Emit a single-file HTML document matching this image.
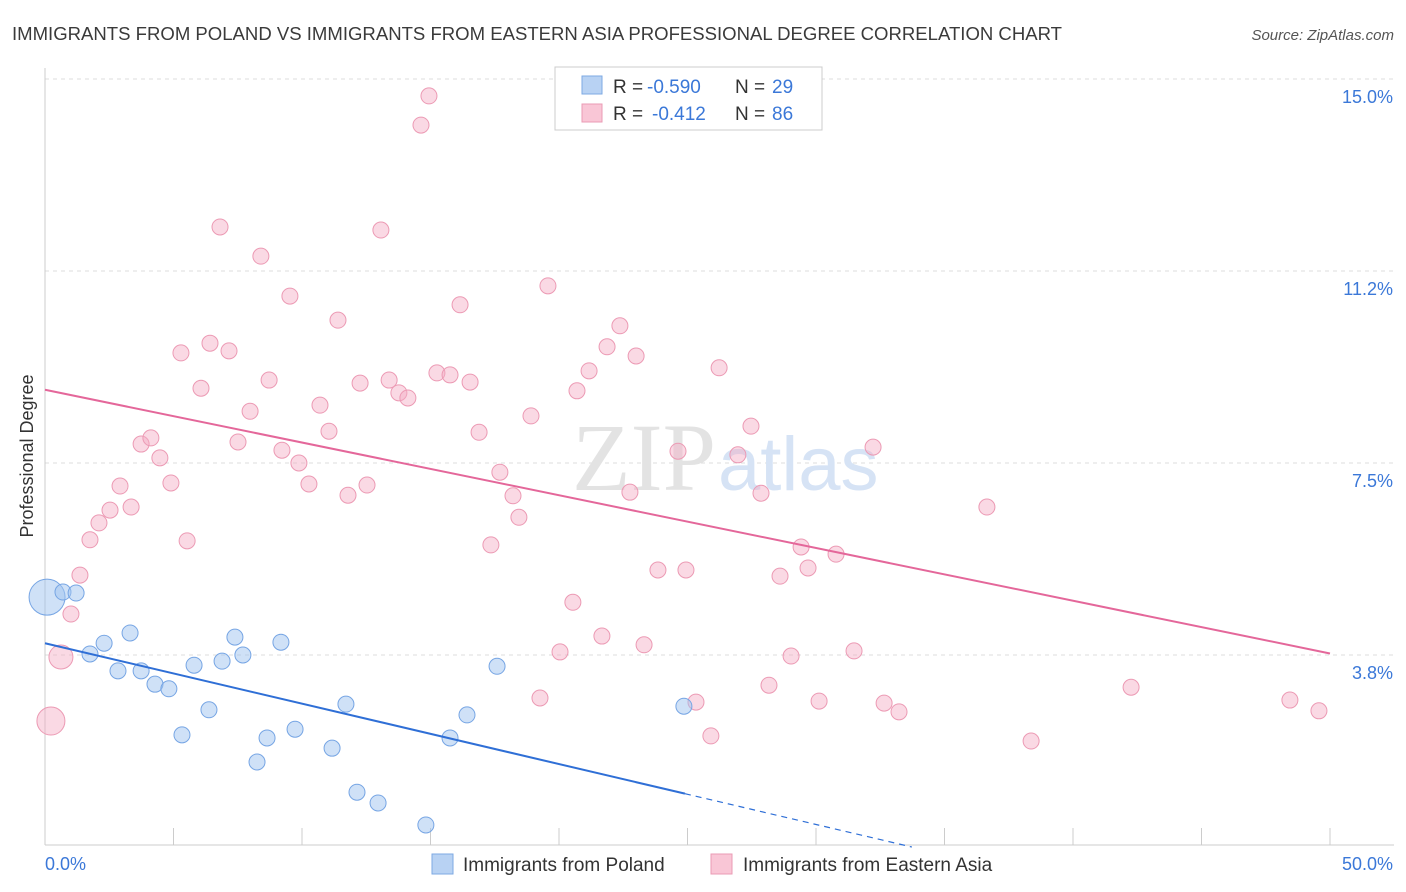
<!DOCTYPE html>
<html><head><meta charset="utf-8">
<style>
body{margin:0;background:#fff;font-family:"Liberation Sans",sans-serif;}
#wrap{position:relative;width:1406px;height:892px;overflow:hidden;}
</style></head>
<body>
<div id="wrap">
<svg id="chart" width="1406" height="892" xmlns="http://www.w3.org/2000/svg">
<text x="12" y="40" font-size="18" fill="#3a3a3a" textLength="1050" lengthAdjust="spacingAndGlyphs">IMMIGRANTS FROM POLAND VS IMMIGRANTS FROM EASTERN ASIA PROFESSIONAL DEGREE CORRELATION CHART</text>
<text x="1394" y="40" font-size="15" fill="#555" font-style="italic" text-anchor="end">Source: ZipAtlas.com</text>
<text x="33" y="456" font-size="18" fill="#333" text-anchor="middle" transform="rotate(-90 33 456)">Professional Degree</text>
<g id="grid"></g>
<line x1="45" y1="68" x2="45" y2="845" stroke="#ccc"/>
<line x1="45" y1="845" x2="1394" y2="845" stroke="#ccc"/>
<g id="xticks"></g>
<text x="716" y="490" font-size="96" fill="#e3e3e3" text-anchor="end" font-family="Liberation Serif,serif">ZIP</text>
<text x="718" y="490" font-size="76" fill="#d6e3f5">atlas</text>
<g id="pts"></g>
<g id="lines"></g>
<text x="45" y="870" font-size="18" fill="#3b78d8">0.0%</text>
<text x="1393" y="870" font-size="18" fill="#3b78d8" text-anchor="end">50.0%</text>
<g>
<rect x="555" y="67" width="267" height="63" fill="#fff" stroke="#ccc"/>
<rect x="582" y="76" width="20" height="18" fill="#b8d2f3" stroke="#7ea9e3"/>
<rect x="582" y="104" width="20" height="18" fill="#f9c6d6" stroke="#ea9bb4"/>
<text y="93" font-size="19" fill="#333"><tspan x="613">R = </tspan><tspan x="647" fill="#3b78d8">-0.590</tspan><tspan x="735">N = </tspan><tspan x="772" fill="#3b78d8">29</tspan></text>
<text y="120" font-size="19" fill="#333"><tspan x="613">R = </tspan><tspan x="652" fill="#3b78d8">-0.412</tspan><tspan x="735">N = </tspan><tspan x="772" fill="#3b78d8">86</tspan></text>
</g>
<g>
<rect x="432" y="854" width="21" height="20" fill="#b8d2f3" stroke="#7ea9e3"/>
<text x="463" y="871" font-size="19" fill="#333">Immigrants from Poland</text>
<rect x="711" y="854" width="21" height="20" fill="#f9c6d6" stroke="#ea9bb4"/>
<text x="743" y="871" font-size="19" fill="#333">Immigrants from Eastern Asia</text>
</g>
</svg>
</div>
<script>
const yTicks=[3.75,7.5,11.25,15];
const yTickLabels=["3.8%","7.5%","11.2%","15.0%"];
const xTicks=[0,5,10,15,20,25,30,35,40,45,50];
const polandX=[0.08,0.70,1.21,1.75,2.30,2.84,3.31,3.74,4.28,4.82,5.33,5.80,6.38,6.89,7.39,7.70,8.25,8.64,9.18,9.73,11.17,11.71,12.14,12.96,14.82,15.76,16.42,17.59,24.86];
const polandY=[4.88,4.98,4.96,3.77,3.98,3.44,4.18,3.44,3.18,3.09,2.19,3.55,2.68,3.63,4.10,3.75,1.66,2.13,4.00,2.30,1.93,2.79,1.07,0.86,0.43,2.13,2.58,3.53,2.75];
const asiaX=[0.23,0.62,1.01,1.36,1.75,2.10,2.53,2.92,3.35,3.74,4.12,4.47,4.90,5.29,5.53,6.07,6.42,6.81,7.16,7.51,7.98,8.40,8.72,9.22,9.53,9.88,10.27,10.70,11.05,11.40,11.79,12.26,12.53,13.07,13.39,13.77,14.12,14.63,14.94,15.25,15.76,16.15,16.54,16.89,17.35,17.70,18.21,18.44,18.91,19.26,19.57,20.04,20.54,20.70,21.17,21.67,21.87,22.37,22.76,23.00,23.31,23.85,24.63,24.94,25.33,25.91,26.23,26.96,27.47,27.86,28.17,28.60,29.03,29.42,29.69,30.12,30.78,31.48,32.22,32.65,33.23,36.65,38.37,42.26,48.44,49.57];
const asiaY=[2.46,3.71,4.55,5.31,6.00,6.33,6.58,7.05,6.64,7.87,7.99,7.60,7.11,9.65,5.98,8.96,9.84,12.11,9.69,7.91,8.51,11.54,9.12,7.75,10.76,7.50,7.09,8.63,8.12,10.29,6.87,9.06,7.07,12.05,9.12,8.87,8.77,14.10,14.67,9.26,9.22,10.59,9.08,8.10,5.90,7.32,6.86,6.44,8.42,2.91,10.96,3.81,4.78,8.91,9.30,4.12,9.77,10.18,6.93,9.59,3.95,5.41,7.73,5.41,2.83,2.17,9.36,7.66,8.22,6.91,3.16,5.29,3.73,5.86,5.45,2.85,5.72,3.83,7.81,2.81,2.64,6.64,2.07,3.12,2.87,2.66];
const polandTrend=[3.98,-0.118];
const asiaTrend=[8.93,-0.103];
const NS="http://www.w3.org/2000/svg";
const X=v=>45+v/50*1285;
const Y=v=>847-v/3.75*192;
function mk(t,a,p){const e=document.createElementNS(NS,t);for(const k in a)e.setAttribute(k,a[k]);p.appendChild(e);return e;}
const grid=document.getElementById('grid');
yTicks.forEach((t,i)=>{
 const l=mk('line',{x1:45,x2:1394,y1:Y(t),y2:Y(t),stroke:'#ddd','stroke-dasharray':'4,4'},grid);
 
 
 const tx=mk('text',{x:1393,y:Y(t)+24,'font-size':18,fill:'#3b78d8','text-anchor':'end'},grid);
 tx.textContent=yTickLabels[i];
 
 
});
const xt=document.getElementById('xticks');
xTicks.forEach(t=>{
 const l=mk('line',{x1:X(t),x2:X(t),y1:828,y2:845,stroke:'#ccc'},xt);
 
 
});
const pts=document.getElementById('pts');
asiaX.forEach((x,i)=>{
 const r=i===0?14:(i===1?12:8);
 const c=mk('circle',{cx:X(x),cy:Y(asiaY[i]),r:r,fill:'rgba(245,170,195,0.45)',stroke:'#ec9ab4','stroke-width':1},pts);
 
 
});
polandX.forEach((x,i)=>{
 const r=i===0?18:8;
 const c=mk('circle',{cx:X(x),cy:Y(polandY[i]),r:r,fill:'rgba(160,195,240,0.5)',stroke:'#76a5e4','stroke-width':1},pts);
 
 
});
const lg=document.getElementById('lines');
const pEnd=24.9;
let l1=mk('line',{x1:X(0),y1:Y(polandTrend[0]),x2:X(pEnd),y2:Y(polandTrend[0]+polandTrend[1]*pEnd),stroke:'#2f6fd6','stroke-width':2},lg);


const zx=-polandTrend[0]/polandTrend[1];
let l2=mk('line',{x1:X(pEnd),y1:Y(polandTrend[0]+polandTrend[1]*pEnd),x2:X(zx),y2:Y(0),stroke:'#2f6fd6','stroke-width':1.2,'stroke-dasharray':'6,5'},lg);


let l3=mk('line',{x1:X(0),y1:Y(asiaTrend[0]),x2:X(50),y2:Y(asiaTrend[0]+asiaTrend[1]*50),stroke:'#e4679a','stroke-width':2},lg);


</script>
</body></html>
